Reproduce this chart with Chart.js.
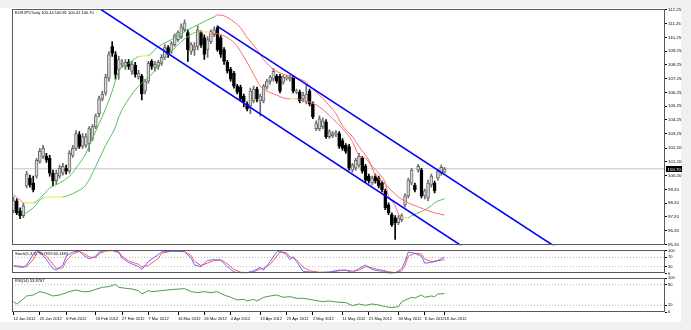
<!DOCTYPE html>
<html>
<head>
<meta charset="utf-8">
<title>EURJPY Daily</title>
<script src="https://cdn.jsdelivr.net/npm/chart.js@4.4.1/dist/chart.umd.min.js"></script>
<style>
  html, body { margin: 0; padding: 0; background: #f0f0f0; }
  #wrap { position: relative; width: 691px; height: 330px; overflow: hidden; }
  #paper { position: absolute; left: 0; top: 8px; width: 681px; height: 314px; background: #fff; }
  canvas { position: absolute; left: 0; }
</style>
</head>
<body>
<div id="wrap">
  <div id="paper"></div>
  <canvas id="price" width="691" height="249" style="top:0"></canvas>
  <canvas id="stoch" width="691" height="30" style="top:247px"></canvas>
  <canvas id="rsi" width="691" height="56" style="top:274px"></canvas>
</div>
<script>
'use strict';
/*----- daily bars -----*/
var symbol = 'EURJPY,Daily';
var openP = [97.65, 98.37, 97.65, 97.29, 99.45, 100.02, 99.66, 100.16, 101.24, 101.60,
	101.60, 101.46, 100.38, 99.81, 100.16, 100.38, 100.74, 100.52, 101.67, 102.18,
	103.19, 102.32, 102.40, 102.54, 102.90, 103.76, 104.70, 105.78, 106.21, 107.29,
	109.59, 109.01, 107.93, 108.29, 108.15, 108.44, 107.79, 108.22, 107.36, 107.43,
	106.35, 107.07, 108.51, 108.08, 108.15, 108.37, 108.80, 109.52, 109.23, 109.73,
	110.09, 110.31, 110.81, 110.60, 109.23, 109.37, 109.59, 110.60, 110.24, 109.37,
	109.95, 110.45, 110.96, 110.24, 109.37, 108.44, 107.93, 107.65, 106.71, 106.64,
	105.99, 105.42, 105.27, 105.63, 106.49, 105.63, 105.63, 106.64, 107.07, 107.21,
	107.43, 107.43, 107.00, 107.29, 107.21, 107.36, 106.28, 106.28, 105.78, 105.56,
	106.35, 105.42, 103.62, 103.62, 103.76, 104.12, 103.04, 103.11, 103.19, 103.26,
	102.75, 102.40, 102.32, 100.60, 100.74, 100.96, 101.46, 100.88, 100.16, 99.66,
	100.16, 100.02, 99.66, 99.09, 98.08, 97.36, 97.14, 96.78, 97.00, 98.08,
	98.73, 99.66, 99.52, 100.60, 100.60, 98.73, 98.58, 99.52, 99.66, 100.02,
	100.38, 100.44];
var highP = [98.65, 98.51, 97.86, 98.22, 100.52, 100.24, 100.16, 101.46, 102.18, 102.40,
	101.82, 101.67, 100.60, 100.60, 100.96, 101.10, 100.96, 102.03, 102.40, 103.47,
	103.40, 103.26, 103.26, 103.76, 103.91, 104.70, 105.99, 106.35, 107.57, 109.23,
	109.95, 109.23, 108.87, 108.65, 108.65, 108.65, 108.51, 108.44, 107.86, 107.57,
	107.21, 108.51, 108.65, 108.51, 108.58, 109.01, 109.73, 109.66, 109.95, 110.52,
	110.74, 111.24, 111.53, 110.81, 109.88, 109.88, 111.10, 110.74, 110.45, 110.31,
	110.81, 111.03, 111.10, 110.38, 109.52, 108.58, 108.08, 107.79, 106.85, 106.78,
	106.14, 105.56, 106.57, 106.71, 106.64, 106.14, 106.85, 107.21, 107.50, 108.01,
	107.57, 107.57, 107.50, 107.50, 107.50, 107.50, 106.49, 106.42, 106.28, 106.78,
	106.49, 105.56, 104.19, 104.55, 104.41, 104.27, 103.55, 103.40, 103.47, 103.40,
	102.90, 102.54, 102.47, 101.10, 101.46, 101.82, 101.60, 101.03, 100.31, 100.16,
	100.31, 100.16, 99.81, 99.23, 98.22, 97.50, 97.29, 97.29, 97.43, 98.87,
	100.02, 100.74, 99.66, 101.03, 100.74, 99.23, 99.88, 100.31, 99.81, 100.67,
	100.96, 100.81];
var lowP = [97.50, 97.36, 97.07, 97.14, 99.30, 99.37, 99.01, 100.02, 101.10, 101.46,
	101.17, 100.16, 99.45, 99.59, 100.02, 100.24, 100.31, 100.38, 101.53, 102.03,
	102.18, 102.18, 102.25, 101.96, 102.75, 103.62, 104.48, 105.63, 106.06, 107.07,
	108.87, 107.21, 107.21, 108.08, 107.93, 107.93, 107.57, 107.36, 107.21, 105.70,
	106.14, 106.93, 107.93, 107.79, 107.93, 108.22, 108.65, 108.80, 109.09, 109.59,
	109.95, 110.16, 110.67, 108.51, 109.01, 108.94, 109.37, 109.52, 108.65, 108.80,
	109.80, 110.31, 109.23, 108.80, 108.29, 107.65, 107.07, 106.57, 106.14, 105.63,
	105.20, 104.91, 104.70, 105.49, 105.56, 104.55, 105.49, 106.49, 106.85, 107.07,
	106.93, 106.21, 106.85, 107.14, 107.07, 106.21, 106.14, 105.49, 105.56, 105.42,
	105.27, 104.34, 103.47, 103.47, 103.62, 102.90, 102.90, 102.97, 103.04, 102.18,
	102.03, 101.82, 100.60, 100.45, 100.60, 100.81, 100.38, 99.73, 99.66, 99.52,
	99.66, 99.30, 99.01, 97.72, 97.36, 96.50, 95.56, 96.64, 96.86, 97.93,
	98.58, 99.52, 99.01, 100.45, 98.58, 98.51, 98.37, 99.37, 98.94, 99.88,
	100.24, 100.41];
var closeP = [98.37, 97.50, 97.29, 98.01, 100.31, 99.52, 99.16, 101.32, 101.96, 102.18,
	101.32, 100.38, 99.81, 100.38, 100.74, 100.88, 100.52, 101.82, 102.18, 103.26,
	102.32, 103.04, 103.04, 103.62, 103.76, 104.55, 105.78, 106.14, 107.36, 109.01,
	109.09, 107.57, 108.65, 108.37, 108.44, 108.15, 108.29, 107.57, 107.65, 106.14,
	107.07, 108.37, 108.15, 108.29, 108.44, 108.80, 109.52, 109.01, 109.80, 110.38,
	110.60, 111.03, 111.32, 109.37, 109.73, 109.59, 110.81, 109.73, 109.01, 110.09,
	110.67, 110.81, 109.37, 109.01, 108.51, 107.79, 107.21, 106.71, 106.28, 105.78,
	105.56, 105.06, 106.35, 106.49, 105.78, 105.99, 106.71, 107.07, 107.36, 107.79,
	107.07, 106.35, 107.36, 107.36, 107.36, 106.35, 106.35, 105.63, 106.06, 106.14,
	105.42, 104.48, 103.98, 104.34, 104.19, 103.04, 103.40, 103.26, 103.33, 102.32,
	102.18, 101.96, 100.74, 100.96, 101.32, 101.60, 100.52, 99.88, 99.81, 100.02,
	99.81, 99.45, 99.16, 97.86, 97.50, 96.64, 96.78, 97.14, 97.29, 98.73,
	99.88, 100.60, 99.16, 100.88, 98.73, 99.09, 99.66, 100.16, 99.09, 100.52,
	100.81, 100.70];

var priceTicks = [112.25, 111.25, 110.25, 109.25, 108.25, 107.25, 106.25, 105.25, 104.25,
	103.25, 102.20, 101.20, 100.20, 99.20, 98.20, 97.20, 96.20, 95.20];

/*----- moving averages (bar index, price) -----*/
var ma1Idx = [0, 2, 3, 6, 9, 11, 14, 17, 19, 22, 24, 26, 28, 30, 32, 35, 37, 38, 41, 43,
	45, 48, 51, 53, 56, 59, 61, 62, 64, 67, 69, 71, 74, 76, 79, 83, 86, 89, 91, 93,
	95, 98, 100, 103, 105, 108, 110, 113, 115, 117, 120, 123, 126, 128, 131];
var ma1 = [98.80, 98.44, 98.22, 98.22, 98.80, 99.30, 99.66, 100.16, 100.74, 101.82,
	102.90, 103.98, 105.06, 106.35, 107.79, 108.37, 108.73, 108.87, 108.94, 109.37,
	109.73, 110.09, 110.52, 110.81, 111.17, 111.53, 111.75, 111.89, 111.82, 111.39,
	110.96, 110.24, 109.37, 108.65, 107.93, 107.50, 107.29, 107.00, 106.49, 106.06,
	105.56, 104.70, 103.83, 103.04, 102.32, 101.32, 100.24, 99.59, 99.09, 98.65,
	98.22, 97.93, 97.65, 97.50, 97.33];
var ma2Idx = [3, 6, 9, 13, 15, 17, 19, 22, 25, 28, 31, 32, 35, 38, 42, 45, 48, 51, 53, 55,
	57, 60, 63, 65, 67, 69, 71, 73, 75, 77, 80, 82, 84, 86, 88, 90, 93, 97, 100, 103,
	105, 107, 109, 111, 113, 114, 116, 117, 118, 120, 121, 124, 127, 128, 130, 131];
var ma2 = [97.36, 97.86, 98.58, 98.65, 98.65, 98.80, 99.01, 99.52, 100.88, 102.40,
	103.76, 104.48, 105.78, 106.71, 107.57, 108.51, 109.23, 109.95, 110.31, 110.60,
	110.67, 110.60, 110.45, 110.24, 109.88, 109.23, 108.44, 107.57, 106.71, 106.35,
	106.06, 105.85, 105.78, 105.78, 105.63, 105.56, 105.20, 104.34, 103.62, 102.68,
	101.67, 101.46, 100.88, 100.38, 99.66, 98.73, 98.01, 97.43, 97.14, 97.14,
	97.29, 97.58, 98.01, 98.22, 98.44, 98.52];

/*----- channel trendlines -----*/
var upperLineIdx = [62, 170];
var upperLine = [111.06, 94.19];
var lowerLineIdx = [20, 140];
var lowerLine = [113.31, 94.50];

/*----- stochastic (5,3,3) -----*/
var stochIdx = [0, 1, 3, 4, 6, 7, 8, 10, 12, 13, 15, 16, 18, 20, 21, 23, 25, 26, 28, 30,
	32, 33, 35, 38, 39, 41, 44, 45, 48, 50, 52, 54, 55, 57, 59, 61, 63, 65, 67, 69,
	71, 73, 75, 76, 78, 80, 81, 83, 84, 85, 86, 88, 90, 93, 96, 99, 101, 103, 105, 107,
	109, 111, 113, 114, 116, 118, 119, 120, 122, 124, 125, 127, 129, 131];
var stochMain = [33, 30, 27, 37, 82, 97, 93, 60, 22, 15, 37, 75, 93, 97, 82, 63, 75, 93, 100, 100,
	90, 67, 48, 30, 18, 52, 82, 94, 97, 96, 94, 67, 37, 30, 57, 60, 57, 30, 7, 3,
	4, 12, 27, 15, 52, 93, 97, 82, 60, 72, 52, 10, 7, 4, 7, 15, 15, 4, 22, 37,
	18, 12, 10, 0, 3, 22, 52, 93, 87, 75, 45, 48, 57, 70.7959];
var stochSignal = [35, 33, 30, 30, 60, 88, 95, 75, 40, 22, 25, 55, 85, 95, 90, 72, 68, 85, 97, 99,
	95, 75, 55, 40, 28, 35, 65, 88, 96, 96, 95, 78, 52, 35, 45, 57, 60, 42, 18, 6,
	4, 8, 20, 22, 40, 75, 93, 90, 72, 68, 60, 28, 12, 6, 6, 12, 15, 10, 15, 30,
	25, 17, 12, 8, 4, 12, 35, 75, 88, 85, 62, 52, 55, 60.1484];
var stochTicks = [0, 30, 70, 100];
var stochLevels = [30, 70];

/*----- RSI(14) -----*/
var rsiIdx = [0, 1, 2, 4, 6, 8, 10, 12, 14, 15, 17, 19, 21, 23, 25, 27, 29, 31, 32, 34,
	36, 38, 39, 41, 42, 45, 47, 49, 52, 54, 56, 58, 60, 62, 64, 66, 68, 70, 71, 73,
	74, 76, 78, 80, 82, 84, 86, 88, 90, 92, 94, 96, 98, 101, 103, 105, 107, 109, 111, 113,
	115, 117, 118, 121, 122, 124, 125, 127, 128, 129, 131];
var rsiValues = [30.5, 23.6, 30.5, 47.1, 50.1, 59.9, 55, 47.1, 50.1, 53,
	59.9, 64.8, 59.9, 59.9, 66.7, 72.6, 74.6, 81.4, 72.6, 69.7,
	67.7, 62.8, 53, 62.8, 59.9, 62.8, 64.8, 66.7, 68.7, 59.9,
	57, 59.9, 57, 59.9, 50.1, 43.2, 35.4, 37.3, 32.4, 37.3,
	32.4, 43.2, 47.1, 50.1, 43.2, 45.2, 40.3, 40.3, 37.3, 33.4,
	30.5, 32.4, 29.5, 27.5, 18.7, 23.6, 19.7, 23.6, 20.7, 15.8,
	12.8, 15.8, 30.5, 43.2, 41.2, 50.1, 43.2, 47.1, 45.2, 53, 53.8767];
var rsiTicks = [0, 20, 80, 100];
var rsiLevels = [20, 80];

/*----- time axis -----*/
var dateTickIdx = [0, 8, 16, 25, 33, 41, 50, 58, 66, 75, 83, 91, 100, 108, 117, 125, 131];
var dateTickText = ['12 Jan 2012', '25 Jan 2012', '6 Feb 2012', '16 Feb 2012', '27 Feb 2012',
	'7 Mar 2012', '16 Mar 2012', '26 Mar 2012', '4 Apr 2012', '13 Apr 2012', '23 Apr 2012',
	'2 May 2012', '11 May 2012', '21 May 2012', '30 May 2012', '8 Jun 2012', '18 Jun 2012'];

/*----- helpers -----*/
var xMin = -0.456, xMax = 198.02;
var family = '"Liberation Sans", Arial, sans-serif';
var last = closeP.length - 1;

function pts(xs, ys) {
	return xs.map(function (x, i) { return { x: x, y: ys[i] }; });
}
function flat(v) {
	return [{ x: xMin, y: v }, { x: xMax, y: v }];
}
function up(i) {
	return closeP[i] >= openP[i];
}
// green while rising, red while falling, yellow when flat
function slopeColour(ctx) {
	var d = (ctx.p1.parsed.y - ctx.p0.parsed.y) / (ctx.p1.parsed.x - ctx.p0.parsed.x);
	if (d > 0.03) return '#55c255';
	if (d < -0.03) return '#ff6a6a';
	return '#e6e63a';
}
function levelSets(levels) {
	return levels.map(function (v) {
		return { type: 'line', data: flat(v), borderColor: '#b8b8b8', borderWidth: 1,
			borderDash: [1, 2], pointRadius: 0, order: 9 };
	});
}
function hiddenX() {
	return { type: 'linear', display: false, min: xMin, max: xMax, offset: false };
}
function rightY(min, max, ticks, digits, size) {
	return {
		position: 'right', min: min, max: max,
		afterFit: function (s) { s.width = 26; },
		afterBuildTicks: function (s) { s.ticks = ticks.map(function (v) { return { value: v }; }); },
		grid: { drawOnChartArea: false, drawTicks: true, tickLength: 2, color: '#000' },
		border: { display: false },
		ticks: { autoSkip: false, padding: 1, color: '#000', font: { size: size, family: family },
			callback: function (v) { return v.toFixed(digits); } }
	};
}

/*----- panel frame + caption -----*/
var frame = {
	id: 'frame',
	afterDraw: function (chart, args, opts) {
		var a = chart.chartArea, c = chart.ctx;
		c.save();
		c.strokeStyle = '#5a5a5a';
		c.lineWidth = 1;
		c.strokeRect(Math.round(a.left) + 0.5, Math.round(a.top) + 0.5,
			Math.round(a.right - a.left) - 1, Math.round(a.bottom - a.top) - 1);
		if (opts.text) {
			c.fillStyle = '#000';
			c.font = '4px ' + family;
			c.textBaseline = 'middle';
			c.fillText(opts.text, a.left + 3, a.top + (opts.dy || 4));
		}
		c.restore();
	}
};

/*----- last price box on the price scale -----*/
var lastMark = {
	id: 'lastMark',
	afterDraw: function (chart) {
		var c = chart.ctx, a = chart.chartArea;
		var y = Math.round(chart.scales.y.getPixelForValue(closeP[last]));
		c.save();
		c.fillStyle = '#000';
		c.fillRect(a.right + 1, y - 3, 16, 6);
		c.fillStyle = '#fff';
		c.font = '4.4px ' + family;
		c.textBaseline = 'middle';
		c.fillText(closeP[last].toFixed(2), a.right + 2.5, y + 0.3);
		c.restore();
	}
};

var barIdx = closeP.map(function (_, i) { return i; });
var header = symbol + ' ' + [openP[last], highP[last], lowP[last], closeP[last]]
	.map(function (v) { return v.toFixed(2); }).join(' ');

/*----- price panel -----*/
new Chart(document.getElementById('price'), {
	type: 'bar',
	data: {
		datasets: [{
			type: 'line', data: flat(closeP[last]), borderColor: '#c8c8c8', borderWidth: 1,
			pointRadius: 0, order: 10
		}, {
			data: barIdx.map(function (i) { return { x: i, y: [lowP[i], highP[i]] }; }),
			backgroundColor: function (ctx) { return ctx.dataIndex != null && up(ctx.dataIndex) ? '#6e6e6e' : '#000'; },
			barThickness: 1, grouped: false, order: 8
		}, {
			data: barIdx.map(function (i) { return { x: i, y: [openP[i], closeP[i]] }; }),
			backgroundColor: function (ctx) { return ctx.dataIndex != null && up(ctx.dataIndex) ? '#d8d8d8' : '#000'; },
			borderColor: function (ctx) { return ctx.dataIndex != null && up(ctx.dataIndex) ? '#6a6a6a' : '#000'; },
			borderWidth: 1, borderSkipped: false, barThickness: 3, minBarLength: 1,
			grouped: false, order: 7
		}, {
			type: 'line', data: pts(ma2Idx, ma2), borderWidth: 1, pointRadius: 0,
			cubicInterpolationMode: 'monotone', segment: { borderColor: slopeColour }, order: 4
		}, {
			type: 'line', data: pts(ma1Idx, ma1), borderWidth: 1, pointRadius: 0,
			cubicInterpolationMode: 'monotone', segment: { borderColor: slopeColour }, order: 3
		}, {
			type: 'line', data: pts(upperLineIdx, upperLine), borderColor: '#0000ff',
			borderWidth: 1.6, pointRadius: 0, order: 1
		}, {
			type: 'line', data: pts(lowerLineIdx, lowerLine), borderColor: '#0000ff',
			borderWidth: 1.6, pointRadius: 0, order: 1
		}]
	},
	options: {
		responsive: false, animation: false, events: [],
		layout: { padding: { left: 12, top: 9, right: 0, bottom: 1 } },
		scales: {
			x: hiddenX(),
			y: rightY(95.13, 112.32, priceTicks, 2, 4.4)
		},
		plugins: { legend: { display: false }, tooltip: { enabled: false }, frame: { text: header, dy: 4 } }
	},
	plugins: [frame, lastMark]
});

/*----- stochastic panel -----*/
new Chart(document.getElementById('stoch'), {
	type: 'line',
	data: {
		datasets: levelSets(stochLevels).concat([{
			data: pts(stochIdx, stochSignal), borderColor: '#ff5a5a', borderWidth: 1,
			pointRadius: 0, order: 2
		}, {
			data: pts(stochIdx, stochMain), borderColor: '#6a6aff', borderWidth: 1,
			pointRadius: 0, order: 1
		}])
	},
	options: {
		responsive: false, animation: false, events: [],
		layout: { padding: { left: 12, top: 3, right: 0, bottom: 2 } },
		scales: { x: hiddenX(), y: rightY(0, 100, stochTicks, 0, 4) },
		plugins: {
			legend: { display: false }, tooltip: { enabled: false },
			frame: { text: 'Stoch(5,3,3) ' + stochMain[stochMain.length - 1].toFixed(4) + ' ' +
				stochSignal[stochSignal.length - 1].toFixed(4), dy: 3.5 }
		}
	},
	plugins: [frame]
});

/*----- RSI panel with the time axis -----*/
new Chart(document.getElementById('rsi'), {
	type: 'line',
	data: {
		datasets: levelSets(rsiLevels).concat([{
			data: pts(rsiIdx, rsiValues), borderColor: '#4f9a4f', borderWidth: 1,
			pointRadius: 0, order: 1
		}])
	},
	options: {
		responsive: false, animation: false, events: [],
		layout: { padding: { left: 12, top: 4, right: 0, bottom: 0 } },
		scales: {
			x: {
				type: 'linear', min: xMin, max: xMax, offset: false,
				afterFit: function (s) { s.height = 18; },
				afterBuildTicks: function (s) { s.ticks = dateTickIdx.map(function (v) { return { value: v }; }); },
				grid: { drawOnChartArea: false, drawTicks: true, tickLength: 3, color: '#000' },
				border: { display: false },
				ticks: { align: 'start', autoSkip: false, maxRotation: 0, padding: 1, color: '#000',
					font: { size: 4, family: family },
					callback: function (v) { return dateTickText[dateTickIdx.indexOf(v)]; } }
			},
			y: rightY(0, 100, rsiTicks, 0, 4)
		},
		plugins: {
			legend: { display: false }, tooltip: { enabled: false },
			frame: { text: 'RSI(14) ' + rsiValues[rsiValues.length - 1].toFixed(4), dy: 3 }
		}
	},
	plugins: [frame]
});
</script>
</body>
</html>
